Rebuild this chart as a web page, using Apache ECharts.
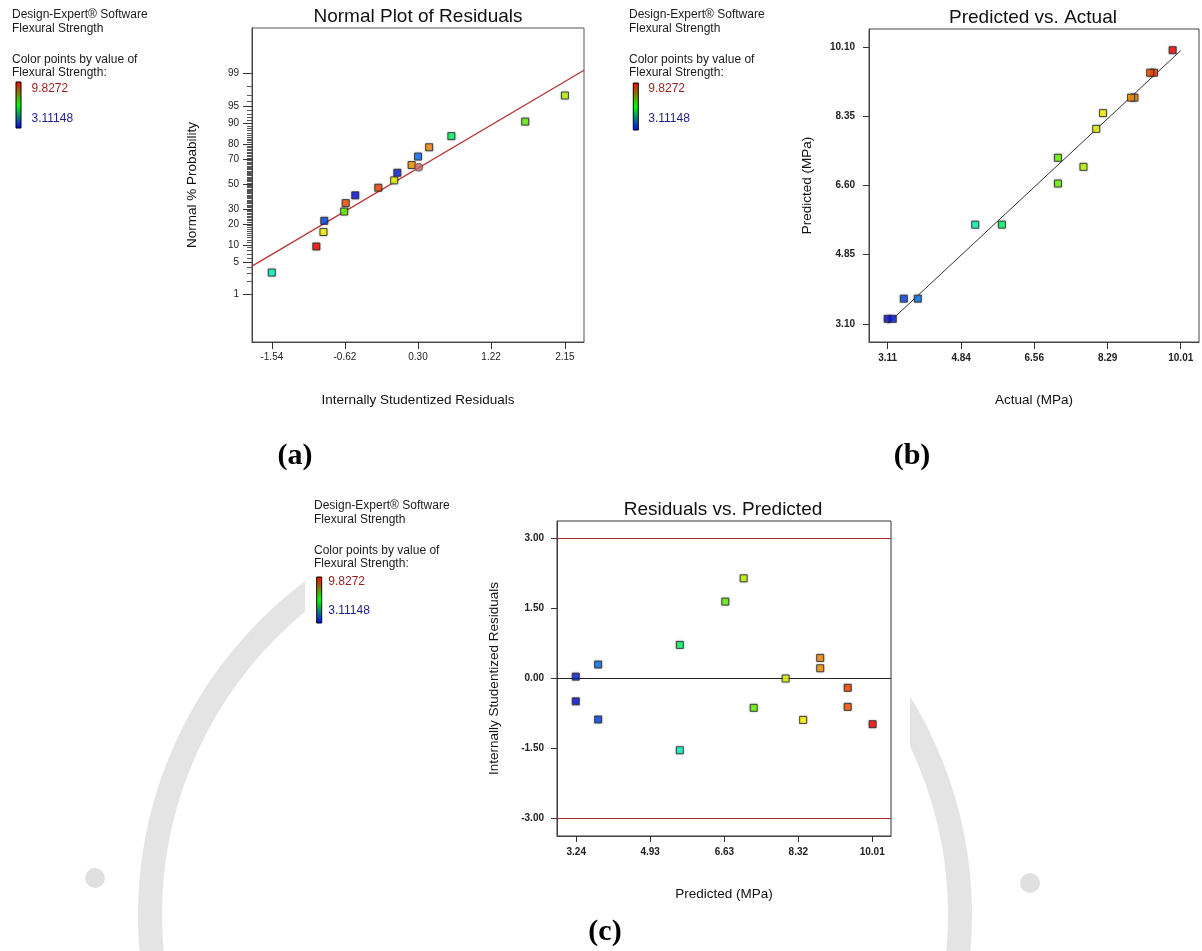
<!DOCTYPE html>
<html>
<head>
<meta charset="utf-8">
<script src="https://cdn.jsdelivr.net/npm/echarts@6/dist/echarts.min.js"></script>
<style>
html, body { margin: 0; padding: 0; background: #fff; }
#chart { width: 1202px; height: 951px; }
</style>
</head>
<body>
<div id="chart"></div>
<script>
// Flexural strength runs (MPa): measured value, model prediction and internally studentized residual
const actualStrength    = [3.11, 3.23, 3.49, 3.82, 5.17, 5.80, 7.12, 7.72, 7.12, 8.02, 8.18, 8.92, 8.84, 9.38, 9.29, 9.82];
const predictedStrength = [3.23, 3.23, 3.74, 3.74, 5.61, 5.61, 6.65, 7.07, 7.30, 8.03, 8.43, 8.82, 8.82, 9.45, 9.45, 10.02];
const studentResidual   = [-0.49, 0.04, -0.88, 0.30, -1.54, 0.72, 1.65, 2.15, -0.63, 0.00, -0.89, 0.44, 0.22, -0.20, -0.61, -0.98];

// Normal % probability of the ordered residuals
const normalPercent = [3.1, 9.4, 15.6, 21.9, 28.1, 34.4, 40.6, 46.9, 53.1, 59.4, 65.6, 71.9, 78.1, 84.4, 90.6, 96.9];
// Extra circle marker on the normal plot: [residual, %]
const normalCircle = [0.31, 63.8];
// Normal reference line end points: residual and normal score
const normalLineX = [-1.79, 2.39];
const normalLineZ = [-1.73, 2.40];
// Predicted vs actual reference line end points
const diagonalEnds = [3.11, 10.01];
// Outlier limits on the residual plot
const residualLimits = [3.00, -3.00];

// Tick labels
const normXTicks   = [-1.54, -0.62, 0.30, 1.22, 2.15];
const normPctMajor = [1, 5, 10, 20, 30, 50, 70, 80, 90, 95, 99];
const actualTicks  = [3.11, 4.84, 6.56, 8.29, 10.01];
const predYTicks   = [3.10, 4.85, 6.60, 8.35, 10.10];
const predXTicks   = [3.24, 4.93, 6.63, 8.32, 10.01];
const residTicks   = [-3.00, -1.50, 0.00, 1.50, 3.00];

// Colour legend range
const strengthMin = 3.11148;
const strengthMax = 9.8272;

// Inverse standard normal CDF (Acklam) for the probability scale
function normInv(p) {
  const a = [-3.969683028665376e+01, 2.209460984245205e+02, -2.759285104469687e+02, 1.383577518672690e+02, -3.066479806614716e+01, 2.506628277459239e+00];
  const b = [-5.447609879822406e+01, 1.615858368580409e+02, -1.556989798598866e+02, 6.680131188771972e+01, -1.328068155288572e+01];
  const c = [-7.784894002430293e-03, -3.223964580411365e-01, -2.400758277161838e+00, -2.549671010115326e+00, 4.374664141464968e+00, 2.938163982698783e+00];
  const d = [7.784695709041462e-03, 3.224671290700398e-01, 2.445134137142996e+00, 3.754408661907416e+00];
  const pl = 0.02425, ph = 1 - pl;
  let q, r;
  if (p < pl) {
    q = Math.sqrt(-2 * Math.log(p));
    return (((((c[0]*q+c[1])*q+c[2])*q+c[3])*q+c[4])*q+c[5]) / ((((d[0]*q+d[1])*q+d[2])*q+d[3])*q+1);
  }
  if (p <= ph) {
    q = p - 0.5; r = q * q;
    return (((((a[0]*r+a[1])*r+a[2])*r+a[3])*r+a[4])*r+a[5])*q / (((((b[0]*r+b[1])*r+b[2])*r+b[3])*r+b[4])*r+1);
  }
  q = Math.sqrt(-2 * Math.log(1 - p));
  return -(((((c[0]*q+c[1])*q+c[2])*q+c[3])*q+c[4])*q+c[5]) / ((((d[0]*q+d[1])*q+d[2])*q+d[3])*q+1);
}

const zMajor = normPctMajor.map(p => normInv(p / 100));
const zMinor = [];
for (let p = 2; p <= 98; p++) {
  if (normPctMajor.indexOf(p) < 0) zMinor.push(normInv(p / 100));
}

// Build point tables
const runIdx = actualStrength.map((_, i) => i);
const sortedRuns = runIdx.slice().sort((i, j) => studentResidual[i] - studentResidual[j]);
const normalPoints = sortedRuns.map((i, k) => [studentResidual[i], normInv(normalPercent[k] / 100), actualStrength[i]]);
const actualPoints = runIdx.map(i => [actualStrength[i], predictedStrength[i], actualStrength[i]]);
const residualPoints = runIdx.map(i => [predictedStrength[i], studentResidual[i], actualStrength[i]]);

const FONT = '"Liberation Sans", Arial, Helvetica, sans-serif';
const SERIF = '"Liberation Serif", "Times New Roman", serif';

function axis(gridIndex, min, max, ticks, fmt, o) {
  return {
    gridIndex, type: 'value', min, max, position: o.position,
    splitLine: { show: false },
    axisLine: { show: true, onZero: false, lineStyle: { color: '#444', width: 1 } },
    axisTick: { show: true, customValues: ticks, length: o.tickLen, lineStyle: { color: '#333', width: 1 } },
    axisLabel: {
      show: true, customValues: ticks, formatter: fmt, margin: o.margin,
      fontFamily: FONT, fontSize: 10, color: '#222', fontWeight: o.bold ? 'bold' : 'normal'
    },
    name: o.name, nameLocation: 'middle', nameGap: o.nameGap,
    nameTextStyle: { fontFamily: FONT, fontSize: 13.5, color: '#111' }
  };
}
const fix2 = v => v.toFixed(2);

const squareStyle = {
  borderColor: '#2b2b2b', borderWidth: 1,
  shadowColor: 'rgba(0,0,0,0.35)', shadowBlur: 2
};

function legendBlock(x, y, barX, barTop, barBottom, labX, labTopY, labBotY) {
  const t = (txt, tx, ty, color) => ({
    type: 'text', z: 50,
    style: { text: txt, x: tx, y: ty, textVerticalAlign: 'middle', font: '12px ' + FONT, fill: color || '#1a1a1a' }
  });
  return [
    t('Design-Expert® Software', x, y),
    t('Flexural Strength', x, y + 14),
    t('Color points by value of', x, y + 45),
    t('Flexural Strength:', x, y + 58),
    {
      type: 'rect', z: 50,
      shape: { x: barX, y: barTop, width: 5, height: barBottom - barTop },
      style: {
        fill: new echarts.graphic.LinearGradient(0, 0, 0, 1, [
          { offset: 0, color: '#ff0000' }, { offset: 0.5, color: '#00ff00' }, { offset: 1, color: '#0000ff' }
        ]),
        stroke: '#000', lineWidth: 1
      }
    },
    t(String(strengthMax), labX, labTopY, '#9b1c1c'),
    t(String(strengthMin), labX, labBotY, '#1c1c8c')
  ];
}

function titleText(txt, x, y) {
  return { type: 'text', z: 50, style: { text: txt, x, y, textAlign: 'center', textVerticalAlign: 'middle', font: '19px ' + FONT, fill: '#111' } };
}
function panelTag(txt, x, y) {
  return { type: 'text', z: 50, style: { text: txt, x, y, textAlign: 'center', textVerticalAlign: 'middle', font: 'bold 30px ' + SERIF, fill: '#000' } };
}

const chart = echarts.init(document.getElementById('chart'), null, { renderer: 'canvas' });

chart.setOption({
  backgroundColor: '#fff',
  animation: false,
  grid: [
    { left: 252, top: 28, width: 332, height: 314, show: true, borderColor: '#555', borderWidth: 1, backgroundColor: 'transparent' },
    { left: 869, top: 29, width: 330, height: 313, show: true, borderColor: '#444', borderWidth: 1, backgroundColor: 'transparent' },
    { left: 557, top: 521, width: 334, height: 315, show: true, borderColor: '#333', borderWidth: 1, backgroundColor: 'transparent' }
  ],
  xAxis: [
    axis(0, -1.79, 2.39, normXTicks, fix2, { position: 'bottom', tickLen: 7, margin: 10, name: 'Internally Studentized Residuals', nameGap: 51 }),
    axis(1, 2.67, 10.44, actualTicks, fix2, { position: 'bottom', tickLen: 7, margin: 11, bold: true, name: 'Actual (MPa)', nameGap: 51 }),
    axis(2, 2.80, 10.44, predXTicks, fix2, { position: 'bottom', tickLen: 6, margin: 11, bold: true, name: 'Predicted (MPa)', nameGap: 51 })
  ],
  yAxis: [
    axis(0, -3.33, 3.29, zMajor, v => {
      let best = 0;
      zMajor.forEach((z, i) => { if (Math.abs(z - v) < Math.abs(zMajor[best] - v)) best = i; });
      return String(normPctMajor[best]);
    }, { position: 'left', tickLen: 9, margin: 13, name: 'Normal % Probability', nameGap: 53 }),
    axis(1, 2.645, 10.555, predYTicks, fix2, { position: 'left', tickLen: 6, margin: 14, bold: true, name: 'Predicted (MPa)', nameGap: 55 }),
    axis(2, -3.38, 3.38, residTicks, fix2, { position: 'left', tickLen: 6, margin: 13, bold: true, name: 'Internally Studentized Residuals', nameGap: 56 }),
    // minor probability ticks
    {
      gridIndex: 0, type: 'value', min: -3.33, max: 3.29, position: 'left', offset: 0,
      splitLine: { show: false }, axisLine: { show: false, onZero: false },
      axisTick: { show: true, customValues: zMinor, length: 5, lineStyle: { color: '#555', width: 1 } },
      axisLabel: { show: false }
    }
  ],
  visualMap: {
    type: 'continuous', show: false, dimension: 2,
    min: strengthMin, max: strengthMax, seriesIndex: [1, 4, 5],
    inRange: { color: ['#0a10e0', '#00ffff', '#00ff00', '#ffff00', '#ff0000'] }
  },
  series: [
    {
      type: 'line', xAxisIndex: 0, yAxisIndex: 0, z: 1, silent: true, symbol: 'none', clip: true,
      data: [[normalLineX[0], normalLineZ[0]], [normalLineX[1], normalLineZ[1]]],
      lineStyle: { color: '#b93232', width: 1.2 }
    },
    {
      type: 'scatter', xAxisIndex: 0, yAxisIndex: 0, z: 3, symbol: 'rect', symbolSize: 7,
      data: normalPoints, itemStyle: squareStyle
    },
    {
      type: 'scatter', xAxisIndex: 0, yAxisIndex: 0, z: 4, symbol: 'circle', symbolSize: 8,
      data: [[normalCircle[0], normInv(normalCircle[1] / 100)]],
      itemStyle: { color: '#c0605c', borderColor: '#555', borderWidth: 1 }
    },
    {
      type: 'line', xAxisIndex: 1, yAxisIndex: 1, z: 1, silent: true, symbol: 'none',
      data: [[diagonalEnds[0], diagonalEnds[0]], [diagonalEnds[1], diagonalEnds[1]]],
      lineStyle: { color: '#333', width: 1 }
    },
    {
      type: 'scatter', xAxisIndex: 1, yAxisIndex: 1, z: 3, symbol: 'rect', symbolSize: 7,
      data: actualPoints, itemStyle: squareStyle
    },
    {
      type: 'scatter', xAxisIndex: 2, yAxisIndex: 2, z: 3, symbol: 'rect', symbolSize: 7,
      data: residualPoints, itemStyle: squareStyle,
      markLine: {
        silent: true, symbol: ['none', 'none'], label: { show: false }, z: 1,
        data: [
          { yAxis: residualLimits[0], lineStyle: { color: '#a52a2a', width: 1, type: 'solid' } },
          { yAxis: residualLimits[1], lineStyle: { color: '#a52a2a', width: 1, type: 'solid' } },
          { yAxis: 0, lineStyle: { color: '#222', width: 1, type: 'solid' } }
        ]
      }
    }
  ],
  graphic: {
    elements: [
      // faint seal in the page background
      { type: 'circle', z: -20, silent: true, shape: { cx: 555, cy: 915, r: 405 }, style: { fill: 'none', stroke: '#e4e4e4', lineWidth: 24 } },
      { type: 'circle', z: -20, silent: true, shape: { cx: 95, cy: 878, r: 10 }, style: { fill: '#e0e0e0' } },
      { type: 'circle', z: -20, silent: true, shape: { cx: 1030, cy: 883, r: 10 }, style: { fill: '#e0e0e0' } },
      { type: 'rect', z: -10, silent: true, shape: { x: 305, y: 488, width: 605, height: 425 }, style: { fill: '#fff' } },

      titleText('Normal Plot of Residuals', 418, 17),
      titleText('Predicted vs. Actual', 1033, 18),
      titleText('Residuals vs. Predicted', 723, 510),

      ...legendBlock(12, 14.7, 16, 82, 128, 31.5, 88.3, 118.3),
      ...legendBlock(629, 15, 633.3, 83, 130, 648.3, 88.3, 118.3),
      ...legendBlock(314, 506, 316.7, 577, 623, 328.3, 582, 610.7),

      panelTag('(a)', 295, 456),
      panelTag('(b)', 912, 456),
      panelTag('(c)', 605, 932)
    ]
  }
});
</script>
</body>
</html>
